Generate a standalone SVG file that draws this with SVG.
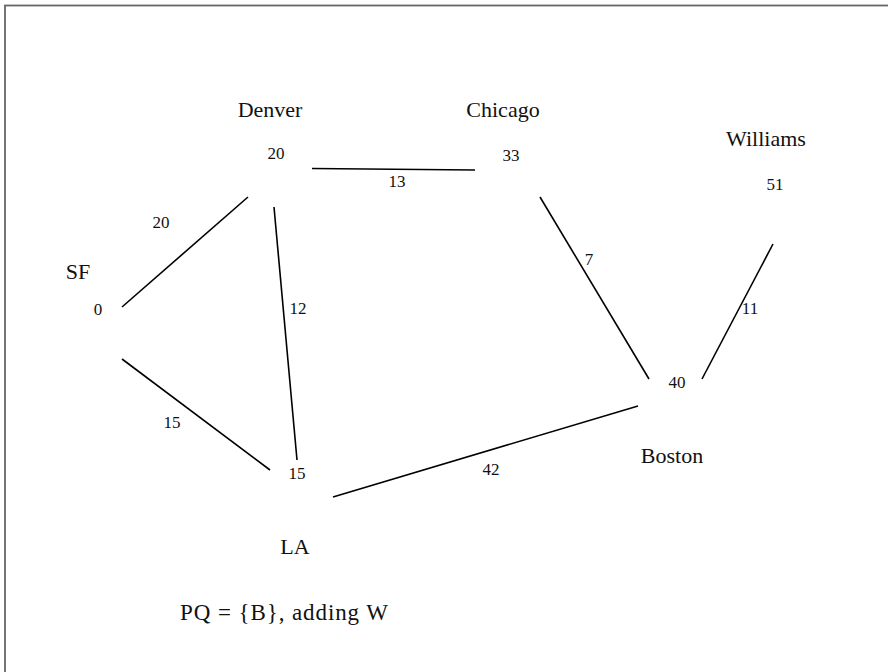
<svg xmlns="http://www.w3.org/2000/svg" width="888" height="672" viewBox="0 0 888 672">
  <style>
    .name { font-family: "Liberation Serif", "Times New Roman", serif; font-size: 22px; fill: #111; text-anchor: middle; }
    .dist { font-family: "Liberation Serif", "Times New Roman", serif; font-size: 17px; fill: #111; text-anchor: middle; }
    .wt { font-family: "Liberation Serif", "Times New Roman", serif; font-size: 17px; fill: #111; text-anchor: middle; }
    .edge { stroke: #000; stroke-width: 1.6; fill: none; stroke-linecap: butt; }
    .note { font-family: "Liberation Serif", "Times New Roman", serif; font-size: 23px; fill: #111; }
  </style>
  <rect width="888" height="672" fill="#fff"/>
  <!-- slide frame; right and bottom edges run off the page -->
  <rect x="5" y="5.5" width="900" height="700" fill="none" stroke="#666" stroke-width="1.8"/>

  <g id="edges">
    <line class="edge" x1="122" y1="307" x2="248" y2="197"/>
    <line class="edge" x1="122" y1="359" x2="270" y2="470"/>
    <line class="edge" x1="274" y1="207" x2="297" y2="460"/>
    <line class="edge" x1="312" y1="168.5" x2="475" y2="170"/>
    <line class="edge" x1="540" y1="197" x2="649" y2="379"/>
    <line class="edge" x1="773" y1="244" x2="702" y2="379"/>
    <line class="edge" x1="333" y1="497" x2="638" y2="406"/>
    <text class="wt" x="161" y="228">20</text>
    <text class="wt" x="172" y="428">15</text>
    <text class="wt" x="298" y="314">12</text>
    <text class="wt" x="397" y="187">13</text>
    <text class="wt" x="589" y="265">7</text>
    <text class="wt" x="750" y="314">11</text>
    <text class="wt" x="491" y="475">42</text>
  </g>

  <g id="node-sf">
    <text class="name" x="78" y="279">SF</text>
    <text class="dist" x="98" y="315">0</text>
  </g>
  <g id="node-denver">
    <text class="name" x="270" y="117">Denver</text>
    <text class="dist" x="276" y="159">20</text>
  </g>
  <g id="node-chicago">
    <text class="name" x="503" y="117">Chicago</text>
    <text class="dist" x="511" y="161">33</text>
  </g>
  <g id="node-williams">
    <text class="name" x="766" y="146">Williams</text>
    <text class="dist" x="775" y="190">51</text>
  </g>
  <g id="node-boston">
    <text class="name" x="672" y="463">Boston</text>
    <text class="dist" x="677" y="388">40</text>
  </g>
  <g id="node-la">
    <text class="name" x="295" y="554">LA</text>
    <text class="dist" x="297" y="479">15</text>
  </g>

  <text class="note" x="180" y="620" textLength="208">PQ = {B}, adding W</text>
</svg>
